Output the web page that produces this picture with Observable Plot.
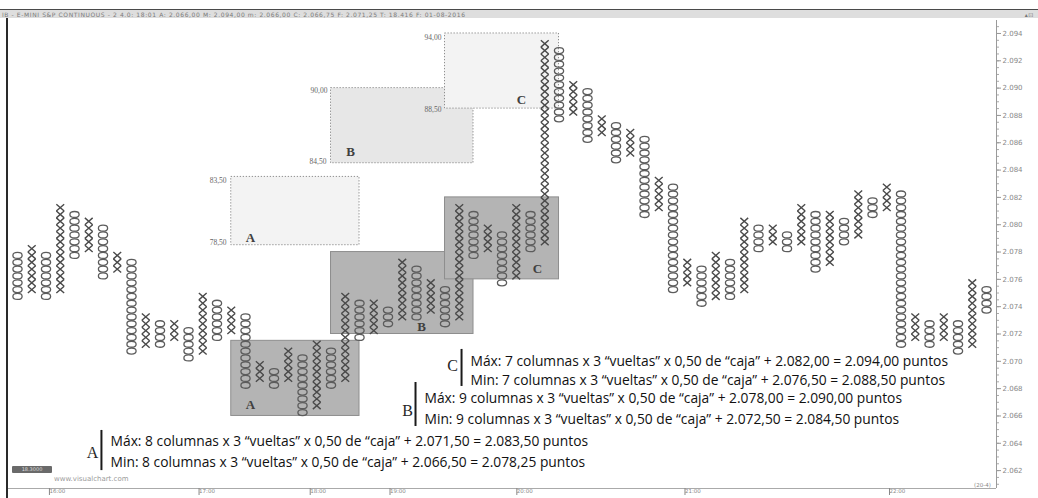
<!DOCTYPE html>
<html><head><meta charset="utf-8">
<script src="https://cdn.jsdelivr.net/npm/d3@7"></script>
<script src="https://cdn.jsdelivr.net/npm/@observablehq/plot@0.6"></script>
<style>
body{margin:0;background:#fff;}
#wrap{position:relative;width:1038px;height:498px;overflow:hidden;background:#fff;}
#wrap svg{position:absolute;left:0;top:0;background:linear-gradient(to bottom,#fff 488px,#ececec 488px);}
#hdr{position:absolute;left:0;top:9px;width:1038px;height:9px;background:#dedede;border-top:1px solid #4a4a4a;font:6px 'DejaVu Sans';letter-spacing:0.6px;color:#7a7a7a;line-height:9px;white-space:nowrap;padding-left:2px;box-sizing:border-box;}
#hdr span{position:absolute;right:4px;top:0;color:#777;}
#lline{position:absolute;left:6px;top:18px;width:2px;height:480px;background:#2a2a2a;}
#badge{position:absolute;left:12px;top:466px;width:40px;height:7px;background:#6a6a6a;border-radius:1px;color:#ddd;font:5px 'DejaVu Sans';line-height:7px;text-align:center;}
#wm{position:absolute;left:54px;top:475px;font:7px 'DejaVu Sans';color:#9a9a9a;}
#cnt{position:absolute;left:974px;top:482px;font:5.5px 'DejaVu Sans';color:#888;}
</style></head>
<body><div id="wrap"></div>
<script>
// ---- Point & figure columns (box size 0.50) ----
const colTypes = ["O","X","O","X","O","X","O","X","O","X","O","X","O","X","O","X","O","X","O","X",
  "O","X","O","X","O","X","O","X","O","X","O","X","O","X","O","X","O","X","O","X",
  "O","X","O","X","O","X","O","X","O","X","O","X","O","X","O","X","O","X","O","X",
  "O","X","O","X","O","X","O","X","O"];
const colTop = [2078.0,2078.5,2078.0,2081.5,2081.0,2080.5,2080.0,2078.0,2077.5,2073.5,
  2073.0,2073.0,2072.5,2075.0,2074.5,2074.0,2073.5,2070.0,2069.5,2071.0,
  2070.5,2071.5,2071.0,2075.0,2074.5,2074.5,2074.0,2077.5,2077.0,2076.0,
  2075.5,2081.5,2081.0,2080.0,2079.5,2081.5,2081.0,2093.5,2093.0,2090.5,
  2090.0,2088.0,2087.5,2087.0,2086.5,2083.5,2083.0,2077.5,2077.0,2078.0,
  2077.5,2080.5,2080.0,2080.0,2079.5,2081.5,2081.0,2081.0,2080.5,2082.5,
  2082.0,2083.0,2082.5,2073.5,2073.0,2073.5,2073.0,2076.0,2075.5];
const colBottom = [2074.5,2075.0,2074.5,2075.0,2077.5,2078.0,2076.0,2076.5,2070.5,2071.0,
  2071.0,2071.5,2070.0,2070.5,2071.5,2072.0,2068.0,2068.5,2068.0,2068.5,
  2066.0,2066.5,2068.0,2068.5,2071.5,2072.0,2072.5,2073.0,2073.0,2073.5,
  2072.5,2073.0,2077.5,2078.0,2075.5,2076.0,2078.0,2078.5,2087.5,2088.0,
  2086.0,2086.5,2084.5,2085.0,2080.5,2081.0,2075.0,2075.5,2074.0,2074.5,
  2074.5,2075.0,2078.0,2078.5,2078.0,2078.5,2076.5,2077.0,2078.5,2079.0,
  2080.5,2081.0,2071.0,2071.5,2071.0,2071.5,2070.5,2071.0,2073.5];
const boxSize = 0.5;

// ---- projection zones ----
const zoneNames = ["A","B","C"];
const zoneCol1 = [16, 23, 31];
const zoneCol2 = [25, 33, 39];
const baseLow = [2066.0, 2072.0, 2076.0];
const baseHigh = [2071.5, 2078.0, 2082.0];
const targetLow = [2078.5, 2084.5, 2088.5];
const targetHigh = [2083.5, 2090.0, 2094.0];
const targetFill = ["#f3f3f3", "#e7e7e7", "#f3f3f3"];
const targetLowLabels = ["78,50", "84,50", "88,50"];
const targetHighLabels = ["83,50", "90,00", "94,00"];

// ---- annotation text ----
const noteLines = [
  "Máx: 7 columnas x 3 “vueltas” x 0,50 de “caja” + 2.082,00 = 2.094,00 puntos",
  "Min: 7 columnas x 3 “vueltas” x 0,50 de “caja” + 2.076,50 = 2.088,50 puntos",
  "Máx: 9 columnas x 3 “vueltas” x 0,50 de “caja” + 2.078,00 = 2.090,00 puntos",
  "Min: 9 columnas x 3 “vueltas” x 0,50 de “caja” + 2.072,50 = 2.084,50 puntos",
  "Máx: 8 columnas x 3 “vueltas” x 0,50 de “caja” + 2.071,50 = 2.083,50 puntos",
  "Min: 8 columnas x 3 “vueltas” x 0,50 de “caja” + 2.066,50 = 2.078,25 puntos"
];

// ---- axes ----
const yMajorTicks = d3.range(2062, 2094.1, 2);
const yMinorTicks = d3.range(2061, 2094.6, 0.5);
const xTickPos = [3.1, 13.6, 21.4, 27.0, 35.9, 47.7, 62.05];
const xTickLabels = ["16:00", "17:00", "18:00", "19:00", "20:00", "21:00", "22:00"];

// ---- build tables ----
const boxes = [];
colTypes.forEach((t, i) => {
  for (let p = colBottom[i] + boxSize / 2; p < colTop[i]; p += boxSize)
    boxes.push({col: i + 1, price: p, type: t});
});
const zones = zoneNames.map((n, i) => ({name: n, c1: zoneCol1[i], c2: zoneCol2[i],
  bl: baseLow[i], bh: baseHigh[i], tl: targetLow[i], th: targetHigh[i], fill: targetFill[i]}));

// layout positions of annotations (column units, price units)
const zoneLetterTarget = [[17.35, 2079.05], [24.37, 2085.3], [36.37, 2089.15]];
const zoneLetterBase = [[17.35, 2066.85], [29.35, 2072.55], [37.49, 2076.8]];
const levelLabelPos = [[15.67, 2078.7, 15.67, 2083.25], [22.68, 2084.63, 22.75, 2089.83], [30.75, 2088.44, 30.75, 2093.71]];
const noteBlockPos = [ // C, B, A : letter x, letter y, bar x, bar y1, bar y2, text x, line1 y, line2 y
  [31.53, 2069.7, 32.16, 2070.87, 2068.16, 32.79, 2069.99, 2068.6],
  [28.37, 2066.4, 28.93, 2068.45, 2065.23, 29.56, 2067.28, 2065.74],
  [6.26, 2063.33, 6.89, 2064.94, 2062.0, 7.53, 2064.13, 2062.59]
];
const noteOrder = ["C", "B", "A"];

const letterRows = [];
zones.forEach((z, i) => {
  letterRows.push({x: zoneLetterTarget[i][0], y: zoneLetterTarget[i][1], t: z.name});
  letterRows.push({x: zoneLetterBase[i][0], y: zoneLetterBase[i][1], t: z.name});
});
const levelRows = [];
zones.forEach((z, i) => {
  const p = levelLabelPos[i];
  levelRows.push({x: p[0], y: p[1], t: targetLowLabels[i]});
  levelRows.push({x: p[2], y: p[3], t: targetHighLabels[i]});
});
const noteLetterRows = [], noteBarRows = [], noteTextRows = [];
noteOrder.forEach((n, i) => {
  const p = noteBlockPos[i];
  noteLetterRows.push({x: p[0], y: p[1], t: n});
  noteBarRows.push({x: p[2], y1: p[3], y2: p[4]});
  noteTextRows.push({x: p[5], y: p[6], t: noteLines[2 * i]});
  noteTextRows.push({x: p[5], y: p[7], t: noteLines[2 * i + 1]});
});

const oSymbol = {draw(ctx) {
  const rx = 4.6, ry = 3.0, k = 0.72;
  ctx.moveTo(rx, 0);
  ctx.bezierCurveTo(rx, ry * k, rx * k, ry, 0, ry);
  ctx.bezierCurveTo(-rx * k, ry, -rx, ry * k, -rx, 0);
  ctx.bezierCurveTo(-rx, -ry * k, -rx * k, -ry, 0, -ry);
  ctx.bezierCurveTo(rx * k, -ry, rx, -ry * k, rx, 0);
  ctx.closePath();
}};
const xSymbol = {draw(ctx) {
  const w = 3.9, h = 3.42;
  ctx.moveTo(-w, -h); ctx.lineTo(w, h);
  ctx.moveTo(w, -h); ctx.lineTo(-w, h);
}};

const xDomain = [0.368, 69.7];
const yDomain = [2060.69, 2094.95];
const fmtY = d => (d / 1000).toFixed(3);

const chart = Plot.plot({
  width: 1038, height: 498,
  marginLeft: 8, marginRight: 42, marginTop: 20, marginBottom: 10,
  x: {domain: xDomain, axis: null},
  y: {domain: yDomain, axis: null},
  style: {background: "transparent", overflow: "visible"},
  marks: [
    Plot.rect(zones, {x1: "c1", x2: "c2", y1: "tl", y2: "th", fill: "fill", stroke: "#8f8f8f", strokeDasharray: "1.3,1.7", strokeWidth: 1}),
    Plot.rect(zones, {x1: "c1", x2: "c2", y1: "bl", y2: "bh", fill: "#b4b4b4", stroke: "#8e8e8e", strokeWidth: 1}),
    Plot.text(letterRows, {x: "x", y: "y", text: "t", fontFamily: "Liberation Serif", fontWeight: "bold", fontSize: 13, fill: "#404040"}),
    Plot.text(levelRows, {x: "x", y: "y", text: "t", textAnchor: "end", fontFamily: "Liberation Serif", fontSize: 7.5, fill: "#666"}),
    Plot.dot(boxes.filter(d => d.type === "O"), {x: "col", y: "price", symbol: oSymbol, fill: "none", stroke: "#5c5c5c", strokeWidth: 1.3}),
    Plot.dot(boxes.filter(d => d.type === "X"), {x: "col", y: "price", symbol: xSymbol, fill: "none", stroke: "#4a4a4a", strokeWidth: 1.4}),
    Plot.ruleX(noteBarRows, {x: "x", y1: "y1", y2: "y2", stroke: "#1a1a1a", strokeWidth: 2}),
    Plot.text(noteLetterRows, {x: "x", y: "y", text: "t", fontFamily: "Liberation Serif", fontSize: 16, fill: "#262626"}),
    Plot.text(noteTextRows, {x: "x", y: "y", text: "t", textAnchor: "start", fontFamily: "Open Sans", fontSize: 13.8, fill: "#111"}),
    Plot.ruleX([xDomain[1]], {stroke: "#9a9a9a", strokeWidth: 1}),
    Plot.ruleY([yDomain[0]], {stroke: "#aaa", strokeWidth: 1}),
    Plot.axisY({anchor: "right", ticks: yMinorTicks, tickSize: 2, tickFormat: () => "", stroke: "#aaa"}),
    Plot.axisY({anchor: "right", ticks: yMajorTicks, tickSize: 4, tickPadding: 2, tickFormat: fmtY, fontSize: 7, fill: "#888", stroke: "#999", fontFamily: "DejaVu Sans"}),
    Plot.axisX({anchor: "bottom", ticks: xTickPos, tickFormat: (d, i) => xTickLabels[i], tickSize: 7, tickPadding: -6, textAnchor: "start", dx: 2, fontSize: 5.5, fill: "#888", stroke: "#888", fontFamily: "DejaVu Sans"})
  ]
});
const wrap = document.getElementById("wrap");
wrap.appendChild(chart);
wrap.insertAdjacentHTML("beforeend",
  '<div id="hdr">IB - E-MINI S&amp;P CONTINUOUS -  2 4.0: 18:01 A: 2.066,00 M: 2.094,00 m: 2.066,00 C: 2.066,75 F: 2.071,25 T: 18.416 F: 01-08-2016<span>▴⊡</span></div>' +
  '<div id="lline"></div><div id="badge">18.3000</div><div id="wm">www.visualchart.com</div><div id="cnt">(20-4)</div>');
</script></body></html>
